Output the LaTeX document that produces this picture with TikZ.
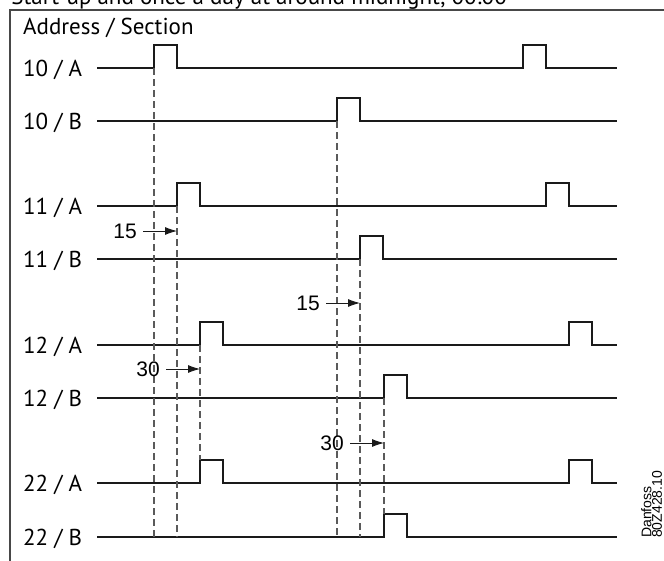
\documentclass[tikz,border=0pt]{standalone}
\usepackage{fontspec}
\setmainfont{PT Sans}
\newfontfamily\arialfont{Liberation Sans}
\usetikzlibrary{arrows.meta}
\definecolor{sigcol}{HTML}{1A1A1A}
\definecolor{guidecol}{HTML}{5A5A5A}
\begin{document}
\begin{tikzpicture}[x=1pt,y=-1pt,
    sig/.style={draw=sigcol,line width=1.5pt},
    guide/.style={draw=guidecol,line width=1.2pt,dash pattern=on 7pt off 4pt},
    lbl/.style={font=\fontsize{23}{26}\selectfont,inner sep=0pt,anchor=base west},
    dlbl/.style={font=\arialfont\fontsize{21}{24}\selectfont,inner sep=0pt,anchor=east},
    dly/.style={draw=sigcol,line width=0.9pt,-{Latex[length=12pt,width=8pt]}}]
    \useasboundingbox (0,0) rectangle (664,560);
    \clip (0,0) rectangle (664,560);

    \node[lbl,anchor=base east] (title) at (507,4) {Start-up and once a day at around midnight, 00:00};
    \draw[draw=guidecol!80!black,line width=1.3pt] (10,10) rectangle (700,600);
    \node[lbl] (head) at (23,34) {Address / Section};

    \foreach \y/\n/\p/\q in {
        68/10/154/523,
        206/11/177/546,
        345/12/200/569,
        483/22/200/569}{
      \node[lbl] (a\n) at (23,{\y+8}) {\n\ /\ A};
      \draw[sig] (97,\y) -| (\p,{\y-23}) -| ({\p+23},\y) -| (\q,{\y-23}) -| ({\q+23},\y) -- (617,\y);
    }
    \foreach \y/\n/\p in {
        121/10/337,
        259/11/360,
        398/12/384,
        537/22/384}{
      \node[lbl] (b\n) at (23,{\y+8}) {\n\ /\ B};
      \draw[sig] (97,\y) -| (\p,{\y-23}) -| ({\p+23},\y) -- (617,\y);
    }

    \foreach \x/\a/\b in {154/68/537, 177/206/537, 200/345/460,
        337/121/537, 360/259/537, 384/398/514}{
      \draw[guide] (\x,\a) -- (\x,\b);
    }

    \foreach \i/\t/\s/\e/\y in {
        1/15/143/177/231,
        2/15/326/360/303,
        3/30/166/200/369,
        4/30/350/384/443}{
      \node[dlbl] (d\i) at ({\s-6},\y) {\t};
      \coordinate (e\i) at (\e,\y);
      \draw[dly] ([xshift=6pt]d\i.east) -- (e\i);
    }

    \node[font=\arialfont\fontsize{14}{10.5}\selectfont,rotate=90,align=left,
        inner sep=0pt,anchor=north west] (mark) at (641,538) {Danfoss\\80Z428.10};
\end{tikzpicture}
\end{document}
